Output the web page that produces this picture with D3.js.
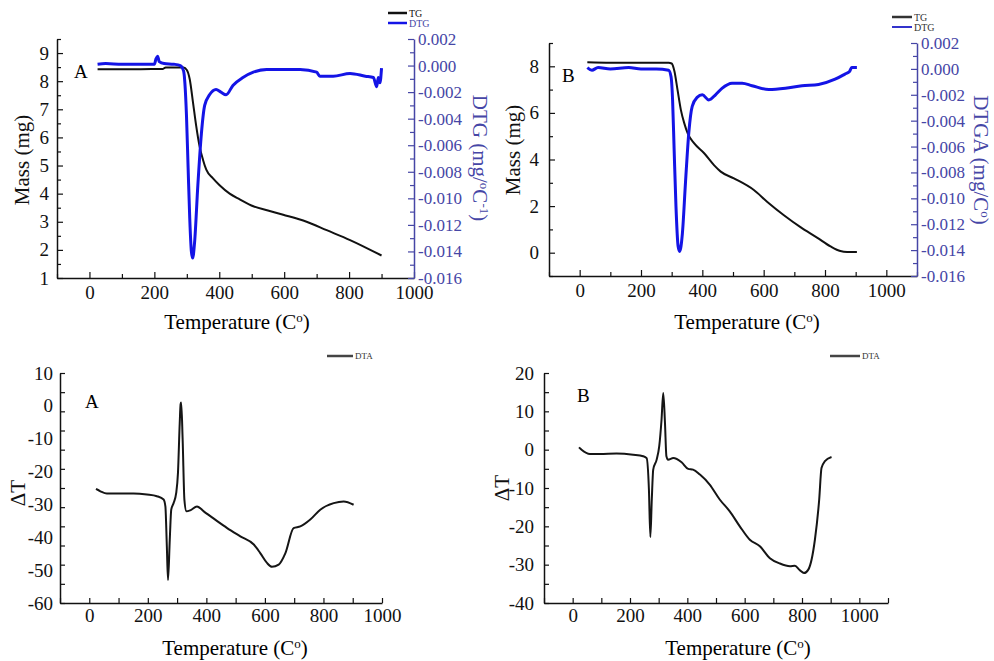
<!DOCTYPE html>
<html>
<head>
<meta charset="utf-8">
<script src="https://cdn.jsdelivr.net/npm/d3@7"></script>
<style>
body { margin: 0; background: #fff; }
svg, svg text { font-family: "Liberation Serif", "DejaVu Serif", serif; }
</style>
</head>
<body>
<div id="chart"></div>
<script>
var width = 994;
var height = 661;

// sample A: TG (mg) and DTG (mg/C)
var tgTempA = [25, 100, 200, 225, 235, 260, 290, 300, 309, 319, 329, 339, 350, 360, 380, 401, 432, 463, 505, 550, 597, 669, 731, 803, 900];
var tgMassA = [8.42, 8.42, 8.43, 8.43, 8.49, 8.49, 8.49, 8.4, 8.07, 7.25, 6.4, 5.7, 5.2, 4.85, 4.55, 4.3, 4.0, 3.8, 3.55, 3.4, 3.25, 3.0, 2.7, 2.35, 1.8];
var dtgTempA = [25, 50, 100, 150, 200, 205, 210, 215, 230, 260, 280, 290, 294, 299, 304, 309, 314, 318, 324, 334, 345, 355, 370, 390, 405, 421, 442, 473, 505, 546, 600, 649, 700, 710, 751, 803, 850, 875, 885, 890, 895, 900];
var dtgValA = [0.0001, 0.00015, 0.0001, 0.0001, 0.0001, 0.0005, 0.0007, 0.0003, 0.00015, 0.0001, 0.0, -0.0004, -0.0013, -0.0038, -0.0077, -0.0115, -0.014, -0.0145, -0.0133, -0.009, -0.0051, -0.003, -0.0022, -0.0018, -0.002, -0.0022, -0.0015, -0.0009, -0.0005, -0.0003, -0.0003, -0.0003, -0.0005, -0.0008, -0.0008, -0.0006, -0.0008, -0.0009, -0.0016, -0.0009, -0.0013, -0.0002];

// sample B: TG (mg) and DTG (mg/C)
var tgTempB = [25, 100, 200, 290, 300, 309, 319, 330, 341, 352, 373, 406, 438, 460, 503, 568, 612, 666, 720, 774, 818, 850, 872, 904];
var tgMassB = [8.17, 8.15, 8.15, 8.15, 8.12, 7.79, 7.0, 6.13, 5.56, 5.13, 4.7, 4.27, 3.76, 3.48, 3.19, 2.69, 2.18, 1.61, 1.1, 0.65, 0.27, 0.07, 0.03, 0.03];
var dtgTempB = [25, 40, 60, 100, 160, 200, 250, 290, 298, 303, 308, 314, 321, 326, 335, 345, 356, 367, 383, 400, 421, 443, 464, 497, 530, 562, 617, 671, 725, 779, 833, 865, 880, 887, 904];
var dtgValB = [0.0001, -0.0001, 0.0001, 0.0, 0.0001, 0.0, 0.0, -0.0001, -0.0006, -0.0024, -0.0062, -0.0106, -0.0137, -0.0141, -0.0127, -0.0088, -0.0049, -0.0029, -0.0022, -0.002, -0.0024, -0.002, -0.0015, -0.0011, -0.0011, -0.0013, -0.0016, -0.0015, -0.0013, -0.0012, -0.0008, -0.0004, -0.0002, 0.0001, 0.0001];

// DTA curves
var dtaTempA = [23, 38, 60, 151, 197, 231, 254, 260, 265, 269, 275, 280, 288, 297, 303, 309, 312, 314, 319, 325, 332, 345, 368, 391, 437, 471, 516, 562, 584, 607, 624, 647, 670, 698, 721, 755, 789, 835, 869, 903];
var dtaValA = [-25.3, -26, -26.7, -26.7, -27, -27.5, -28.5, -30.6, -42.8, -53, -40.7, -31.6, -29.6, -26.5, -20.4, -5.2, 0.5, 1, -10.3, -28.6, -32.1, -31.8, -30.6, -32.1, -35.1, -37.2, -39.7, -42.2, -44.8, -47.8, -49, -48.3, -44.8, -37.2, -36.7, -34.6, -31.6, -29.6, -29.1, -30.1];
var dtaTempB = [22, 31, 60, 95, 153, 211, 246, 258, 266, 271, 276, 281, 293, 302, 310, 316, 322, 327, 333, 351, 380, 403, 420, 444, 478, 513, 548, 583, 618, 653, 688, 723, 758, 775, 793, 807, 822, 845, 860, 868, 880, 903];
var dtaValB = [0.6, 0, -1.1, -1.1, -1, -1.3, -1.7, -2.2, -10.4, -22.8, -13, -5.2, -2.6, 0.9, 7.8, 14.8, 7, -1.7, -2.6, -2.2, -3.3, -5, -5.2, -6.5, -9.1, -13, -16.1, -20, -23.5, -25.2, -28.3, -29.7, -30.4, -30.3, -31.5, -32.2, -31.3, -23.5, -13, -4.8, -3, -1.9];

// tick values
var tempTicks = [0, 200, 400, 600, 800, 1000];
var tempMinor = [-100, 100, 300, 500, 700, 900];
var tempMinorB = [-100, 100, 300, 500, 700, 900, 1100];
var massTicksA = [1, 2, 3, 4, 5, 6, 7, 8, 9];
var massMinorA = [1.5, 2.5, 3.5, 4.5, 5.5, 6.5, 7.5, 8.5, 9.5];
var massTicksB = [0, 2, 4, 6, 8];
var massMinorB = [-1, 1, 3, 5, 7, 9];
var dtgTicks = [-0.016, -0.014, -0.012, -0.010, -0.008, -0.006, -0.004, -0.002, 0, 0.002];
var dtgMinor = [-0.015, -0.013, -0.011, -0.009, -0.007, -0.005, -0.003, -0.001, 0.001];
var dtaLabelsA = [-60, -50, -40, -30, -20, -10, 0, 10];
var dtaLabelsB = [-40, -30, -20, -10, 0, 10, 20];
var dtaMinorB = [-35, -25, -15, -5, 5, 15];

var serif = "'Liberation Serif', 'DejaVu Serif', serif";
var blueLine = "#1414e6";
var blueAxis = "#4646a6";

function createSVG() {
  return d3.select("#chart").append("svg")
    .attr("width", width)
    .attr("height", height)
    .attr("font-family", serif);
}

function styleAxis(g, color, size) {
  g.attr("font-family", serif).attr("font-size", null);
  g.select(".domain").attr("stroke", color).attr("stroke-width", 1.5);
  g.selectAll(".tick line").attr("stroke", color).attr("stroke-width", 1.2);
  g.selectAll(".tick text").attr("fill", color)
    .style("font-family", serif)
    .style("font-size", size + "px");
}

function minorAxis(svg, axis, tr, color) {
  var g = svg.append("g").attr("transform", tr).call(axis);
  g.select(".domain").remove();
  g.selectAll(".tick text").remove();
  g.selectAll(".tick line").attr("stroke", color).attr("stroke-width", 1.2);
}

function addLine(svg, xs, ys, temps, vals, color, w) {
  var pts = temps.map(function(t, i) { return [t, vals[i]]; });
  svg.append("path")
    .datum(pts)
    .attr("fill", "none")
    .attr("stroke", color)
    .attr("stroke-width", w)
    .attr("stroke-linejoin", "round")
    .attr("d", d3.line()
      .curve(d3.curveMonotoneX)
      .x(function(d) { return xs(d[0]); })
      .y(function(d) { return ys(d[1]); }));
}

function rotLabel(svg, x, y, angle, color, parts) {
  var t = svg.append("text")
    .attr("transform", "translate(" + x + "," + y + ") rotate(" + angle + ")")
    .attr("text-anchor", "middle")
    .attr("dy", "0.35em")
    .attr("fill", color)
    .style("font-family", serif)
    .style("font-size", "21px");
  parts.forEach(function(p) {
    var s = t.append("tspan").text(p.text);
    if (p.sup) s.attr("baseline-shift", "super").style("font-size", "13px");
  });
}

function tempLabel(svg, x, y) {
  var t = svg.append("text")
    .attr("x", x).attr("y", y)
    .attr("text-anchor", "middle")
    .style("font-family", serif)
    .style("font-size", "21px");
  t.append("tspan").text("Temperature (C");
  t.append("tspan").text("o").attr("baseline-shift", "super").style("font-size", "13px");
  t.append("tspan").text(")");
}

function legendItem(svg, x1, x2, y, color, label, textColor, size, w) {
  svg.append("line")
    .attr("x1", x1).attr("x2", x2).attr("y1", y).attr("y2", y)
    .attr("stroke", color).attr("stroke-width", w);
  svg.append("text")
    .attr("x", x2 + 2).attr("y", y).attr("dy", "0.35em")
    .attr("fill", textColor)
    .style("font-family", serif)
    .style("font-size", size + "px")
    .text(label);
}

function panelLetter(svg, x, y, s) {
  svg.append("text").attr("x", x).attr("y", y)
    .style("font-family", serif)
    .style("font-size", "19px").text(s);
}

function fmt3(d) { return d.toFixed(3); }

function tgPanel(svg, o) {
  var x = d3.scaleLinear().domain(o.xDomain).range([o.left, o.right]);
  var yL = d3.scaleLinear().domain(o.massDomain).range([o.bottom, o.top]);
  var yR = d3.scaleLinear().domain([-0.016, 0.002]).range([o.bottom, o.top]);

  var gx = svg.append("g").attr("transform", "translate(0," + o.bottom + ")")
    .call(d3.axisBottom(x).tickValues(tempTicks).tickSize(-6).tickSizeOuter(0).tickPadding(8).tickFormat(d3.format("d")));
  styleAxis(gx, "#111", 19);
  minorAxis(svg, d3.axisBottom(x).tickValues(o.xMinor).tickSize(-4), "translate(0," + o.bottom + ")", "#111");

  var gl = svg.append("g").attr("transform", "translate(" + o.left + ",0)")
    .call(d3.axisLeft(yL).tickValues(o.massTicks).tickSize(-6).tickSizeOuter(0).tickPadding(o.padL).tickFormat(d3.format("d")));
  styleAxis(gl, "#111", 19);
  minorAxis(svg, d3.axisLeft(yL).tickValues(o.massMinor).tickSize(-4), "translate(" + o.left + ",0)", "#111");

  var gr = svg.append("g").attr("transform", "translate(" + o.right + ",0)")
    .call(d3.axisRight(yR).tickValues(dtgTicks).tickSize(-6).tickSizeOuter(0).tickPadding(4).tickFormat(fmt3));
  styleAxis(gr, blueAxis, 17);
  minorAxis(svg, d3.axisRight(yR).tickValues(dtgMinor).tickSize(-4), "translate(" + o.right + ",0)", blueAxis);

  addLine(svg, x, yL, o.tgT, o.tgV, "#111", 2);
  addLine(svg, x, yR, o.dtgT, o.dtgV, blueLine, 3);
}

function dtaPanel(svg, o) {
  var x = d3.scaleLinear().domain(o.xDomain).range([o.left, o.right]);
  var y = d3.scaleLinear().domain(o.yDomain).range([o.bottom, o.top]);

  var gx = svg.append("g").attr("transform", "translate(0," + o.bottom + ")")
    .call(d3.axisBottom(x).tickValues(tempTicks).tickSize(-5).tickSizeOuter(0).tickPadding(6).tickFormat(d3.format("d")));
  styleAxis(gx, "#111", 19);
  minorAxis(svg, d3.axisBottom(x).tickValues(o.xMinor).tickSize(-5), "translate(0," + o.bottom + ")", "#111");

  var gl = svg.append("g").attr("transform", "translate(" + o.left + ",0)")
    .call(d3.axisLeft(y).tickValues(o.yLabels).tickSize(o.labelTick).tickSizeOuter(0).tickPadding(o.padL).tickFormat(function(d) { return String(d); }));
  styleAxis(gl, "#111", 19);
  minorAxis(svg, d3.axisLeft(y).tickValues(o.yMinor).tickSize(-5), "translate(" + o.left + ",0)", "#111");

  addLine(svg, x, y, o.t, o.v, "#151515", 2);
}

function main() {
  var svg = createSVG();

  // top left: TG/DTG sample A
  tgPanel(svg, {
    left: 57, right: 414, top: 39, bottom: 278,
    xDomain: [-100, 1000], xMinor: tempMinor,
    massDomain: [1, 9.5], massTicks: massTicksA, massMinor: massMinorA, padL: 8,
    tgT: tgTempA, tgV: tgMassA, dtgT: dtgTempA, dtgV: dtgValA
  });
  rotLabel(svg, 22, 160, -90, "#111", [{ text: "Mass (mg)" }]);
  rotLabel(svg, 480, 158, 90, blueAxis, [{ text: "DTG (mg/" }, { text: "o", sup: true }, { text: "C" }, { text: "-1", sup: true }, { text: ")" }]);
  tempLabel(svg, 237, 329);
  panelLetter(svg, 74, 78, "A");
  legendItem(svg, 388, 407, 13, "#111", "TG", "#111", 10, 2.5);
  legendItem(svg, 388, 407, 23, blueLine, "DTG", blueAxis, 10, 2.5);

  // top right: TG/DTG sample B
  tgPanel(svg, {
    left: 549, right: 917, top: 43, bottom: 276,
    xDomain: [-100, 1100], xMinor: tempMinorB,
    massDomain: [-1, 9], massTicks: massTicksB, massMinor: massMinorB, padL: 10,
    tgT: tgTempB, tgV: tgMassB, dtgT: dtgTempB, dtgV: dtgValB
  });
  rotLabel(svg, 513, 150, -90, "#111", [{ text: "Mass (mg)" }]);
  rotLabel(svg, 981, 160, 90, blueAxis, [{ text: "DTGA (mg/C" }, { text: "o", sup: true }, { text: ")" }]);
  tempLabel(svg, 747, 329);
  panelLetter(svg, 562, 82, "B");
  legendItem(svg, 892, 912, 17, "#333", "TG", "#333", 10, 2.5);
  legendItem(svg, 892, 912, 27, "#3333cc", "DTG", "#333", 10, 2);

  // bottom left: DTA sample A (tick marks spaced independently of labels, as in the source)
  dtaPanel(svg, {
    left: 60, right: 382, top: 373, bottom: 603,
    xDomain: [-100, 1000], xMinor: tempMinor,
    yDomain: [-60, 10], yLabels: dtaLabelsA, labelTick: 0, padL: 7,
    yMinor: d3.range(13).map(function(i) { return -60 + i * 70 / 12; }),
    t: dtaTempA, v: dtaValA
  });
  rotLabel(svg, 18, 493, -90, "#111", [{ text: "\u0394T" }]);
  tempLabel(svg, 235, 655);
  panelLetter(svg, 85, 408, "A");
  legendItem(svg, 327, 353, 356, "#444", "DTA", "#333", 9, 2.5);

  // bottom right: DTA sample B
  dtaPanel(svg, {
    left: 544, right: 888, top: 373, bottom: 603,
    xDomain: [-100, 1100], xMinor: tempMinorB,
    yDomain: [-40, 20], yLabels: dtaLabelsB, labelTick: -5, padL: 10,
    yMinor: dtaMinorB,
    t: dtaTempB, v: dtaValB
  });
  rotLabel(svg, 502, 488, -90, "#111", [{ text: "\u0394T" }]);
  tempLabel(svg, 738, 655);
  panelLetter(svg, 577, 402, "B");
  legendItem(svg, 830, 860, 356, "#444", "DTA", "#333", 9, 2.5);
}

window.onload = function() {
  main();
};
</script>
</body>
</html>
